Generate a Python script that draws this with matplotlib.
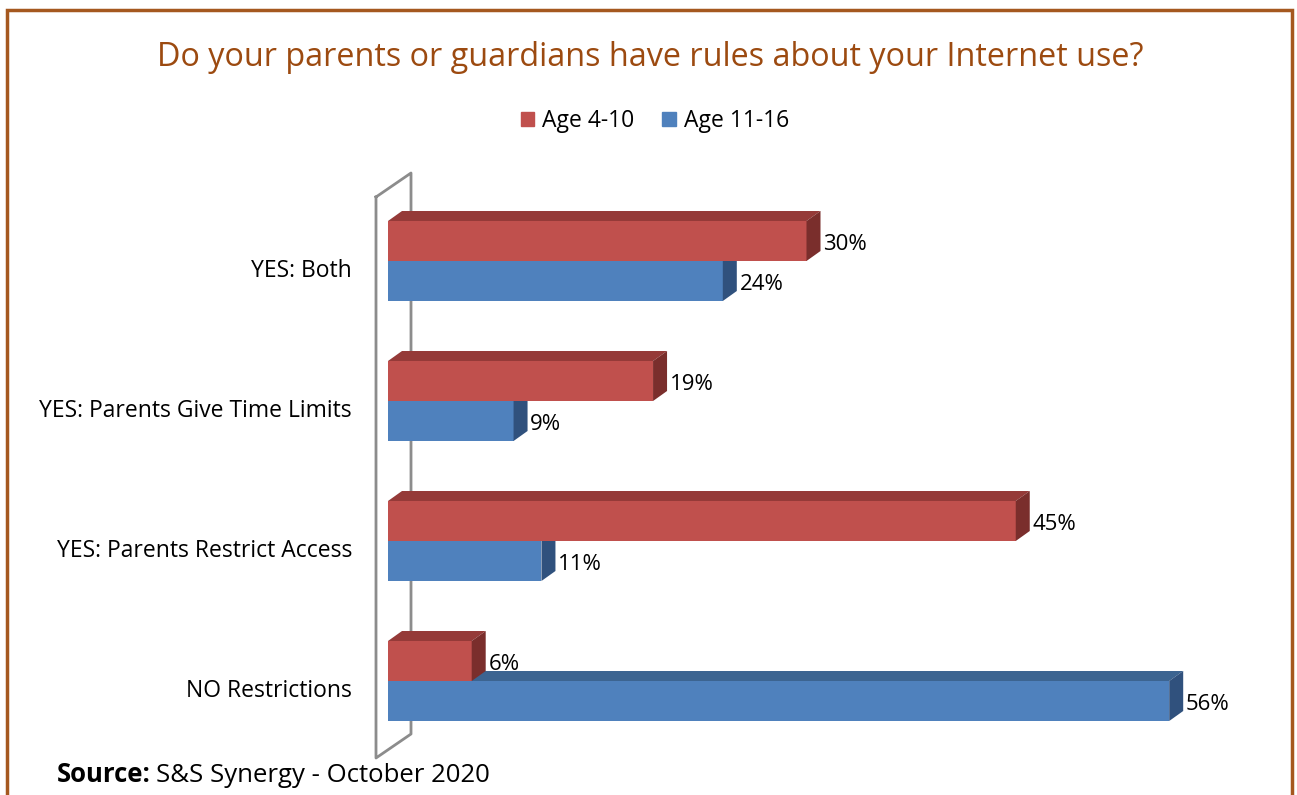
import matplotlib.pyplot as plt
from matplotlib.patches import Polygon, Rectangle

plt.rcParams['font.family'] = ['Open Sans', 'DejaVu Sans']

categories = ['YES: Both', 'YES: Parents Give Time Limits',
              'YES: Parents Restrict Access', 'NO Restrictions']
age_4_10 = [30, 19, 45, 6]
age_11_16 = [24, 9, 11, 56]
series_names = ['Age 4-10', 'Age 11-16']

W, H = 1297, 795
fig = plt.figure(figsize=(W / 100, H / 100), dpi=100)

# plot area in pixels: x=0 at 388, 13.95 px per percent; groups every 140 px
x0_px, px_per_pct = 388, 13.95
ax_left, ax_right = x0_px, x0_px + 62 * px_per_pct
ax_top, ax_bot = 160, 775
ax = fig.add_axes([ax_left / W, 1 - ax_bot / H, (ax_right - ax_left) / W, (ax_bot - ax_top) / H])
ax.set_xlim(0, 62)
grp_px = 140.0
ax.set_ylim((ax_bot - 261) / grp_px, (ax_top - 261) / grp_px)
ax.axis('off')

bar_h = 40 / grp_px
dx = 14 / px_per_pct       # depth offset in x
dy = -10 / grp_px          # depth offset in y (up)

front = {'red': '#C0504D', 'blue': '#4F81BD'}
top = {'red': '#953A38', 'blue': '#3C6491'}
side = {'red': '#7A2E2C', 'blue': '#30517D'}

# back wall of the 3D chart
wdx, wdy = 35 / px_per_pct, -24 / grp_px
wx = -12 / px_per_pct
wy_top, wy_bot = (197 - 261) / grp_px, (758 - 261) / grp_px
ax.plot([wx, wx + wdx, wx + wdx, wx, wx],
        [wy_top, wy_top + wdy, wy_bot + wdy, wy_bot, wy_top],
        color='#8C8C8C', lw=2, clip_on=False, zorder=1)


def bar3d(y, v, c):
    yt, yb = y - bar_h / 2, y + bar_h / 2
    ax.add_patch(Polygon([(0, yt), (dx, yt + dy), (v + dx, yt + dy), (v, yt)],
                         closed=True, facecolor=top[c], edgecolor='none', zorder=2))
    ax.barh(y, v, height=bar_h, color=front[c], zorder=2)
    ax.add_patch(Polygon([(v, yt), (v + dx, yt + dy), (v + dx, yb + dy), (v, yb)],
                         closed=True, facecolor=side[c], edgecolor='none', zorder=2))
    ax.text(v + dx + 0.2, y + 3 / grp_px, f'{v}%', ha='left', va='center',
            fontsize=16, color='black', zorder=3)


for i, cat in enumerate(categories):
    bar3d(i + bar_h / 2, age_11_16[i], 'blue')
    bar3d(i - bar_h / 2, age_4_10[i], 'red')
    ax.text(-36 / px_per_pct, i + 10 / grp_px, cat, ha='right', va='center',
            fontsize=16.5, clip_on=False)

# title, legend, source
fig.text(650 / W, 1 - 58 / H, 'Do your parents or guardians have rules about your Internet use?',
         ha='center', va='center', fontsize=23.3, color='#9C4A10')
handles = [Rectangle((0, 0), 1, 1, color=front['red']), Rectangle((0, 0), 1, 1, color=front['blue'])]
fig.legend(handles, series_names, loc='center', bbox_to_anchor=(655 / W, 1 - 121 / H),
           ncol=2, frameon=False, fontsize=16.5, handlelength=0.6, handleheight=0.6,
           handletextpad=0.35, columnspacing=1.2)
src = fig.text(57 / W, 1 - 775 / H, 'Source:', ha='left', va='center', fontsize=18.5,
               fontweight='bold')
fig.canvas.draw()
bb = src.get_window_extent()
fig.text((bb.x1 + 5) / W, 1 - 775 / H, 'S&S Synergy - October 2020', ha='left', va='center',
         fontsize=18.5)

# outer frame
fig.patches.append(Rectangle((7 / W, -0.05), (1292 - 7) / W, 1 - 10 / H + 0.05,
                             transform=fig.transFigure, fill=False, edgecolor='#A5581F', lw=2.5))

fig.savefig('out.png', dpi=100)
